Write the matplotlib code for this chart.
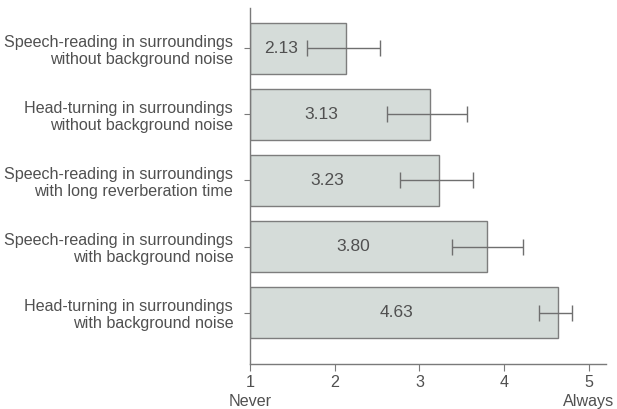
import matplotlib.pyplot as plt
import numpy as np

plt.rcParams['font.family'] = ['Liberation Sans', 'DejaVu Sans']

categories = [
    'Speech-reading in surroundings\nwithout background noise',
    'Head-turning in surroundings\nwithout background noise',
    'Speech-reading in surroundings\nwith long reverberation time',
    'Speech-reading in surroundings\nwith background noise',
    'Head-turning in surroundings\nwith background noise',
]
means = [2.13, 3.13, 3.23, 3.80, 4.63]
err_low = [0.46, 0.51, 0.46, 0.42, 0.22]
err_high = [0.40, 0.43, 0.40, 0.42, 0.17]
x_ticks = [1, 2, 3, 4, 5]
x_ticklabels = ['1\nNever', '2', '3', '4', '5\nAlways']

grey = '#6f6f6f'
text_grey = '#505050'

fig = plt.figure(figsize=(6.17, 4.09), dpi=100)
ax = fig.add_axes([0.405, 0.110, 0.577, 0.870])

y = np.arange(len(categories))
ax.barh(y, np.array(means) - 1, left=1, height=0.76,
        color='#d5dcd9', edgecolor='#7d7d7d', linewidth=1.0)
ax.errorbar(means, y, xerr=[err_low, err_high], fmt='none',
            ecolor=grey, elinewidth=1.0, capsize=5.5, capthick=1.0)

# value labels sit halfway between the axis and the left end of the error bar
for yi, m, lo in zip(y, means, err_low):
    ax.text((1 + m - lo) / 2 + 0.03, yi, f'{m:.2f}', ha='center', va='center',
            fontsize=12.5, color=text_grey)

ax.set_xlim(1, 5.2)
ax.set_ylim(len(categories) - 1 + 0.78, -0.61)
ax.set_xticks(x_ticks)
ax.set_xticklabels(x_ticklabels, fontsize=11.6, color=text_grey, linespacing=1.3)
ax.set_yticks(y)
ax.set_yticklabels(categories, fontsize=11.6, color=text_grey, ha='right')

for side in ['top', 'right']:
    ax.spines[side].set_visible(False)
for side in ['left', 'bottom']:
    ax.spines[side].set_color('#7a7a7a')
    ax.spines[side].set_linewidth(1.0)
ax.tick_params(axis='x', length=5, color='#7a7a7a', pad=3)
ax.tick_params(axis='y', length=4, color='#7a7a7a', pad=8)

fig.savefig('out.png', dpi=100)
